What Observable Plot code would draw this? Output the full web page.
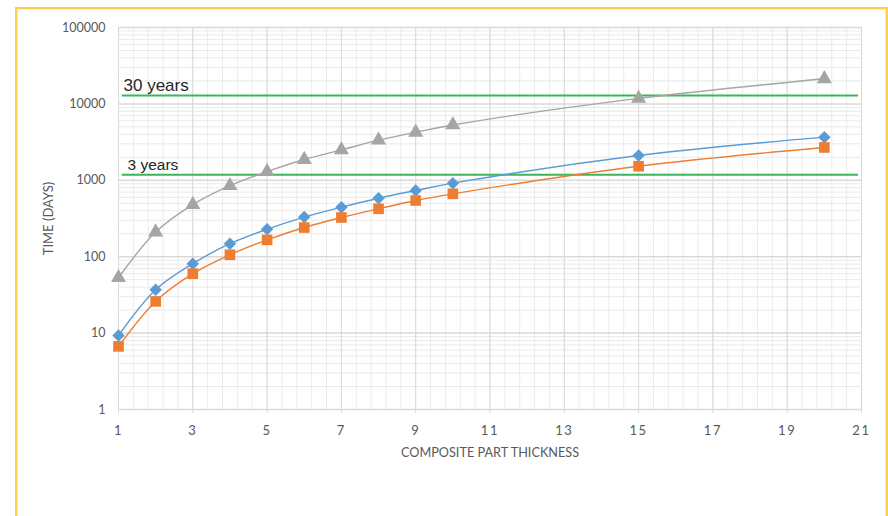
<!DOCTYPE html>
<html>
<head>
<meta charset="utf-8">
<script src="https://cdn.jsdelivr.net/npm/d3@7"></script>
<script src="https://cdn.jsdelivr.net/npm/@observablehq/plot@0.6"></script>
<style>
  html, body { margin: 0; padding: 0; background: #fff; }
  #wrap { position: relative; width: 888px; height: 516px; overflow: hidden; }
  #frame {
    position: absolute; left: 15px; top: 7px; width: 873px; height: 540px;
    box-sizing: border-box; border: 2px solid #fcd04a;
    box-shadow: inset 0 0 0 1px #ececec; pointer-events: none;
  }
  g[aria-label="x-axis tick label"] text { letter-spacing: 1.6px; }
</style>
</head>
<body>
<div id="wrap"><div id="frame"></div></div>
<script>
// Composite part thickness and time (days) for each of the three curves
const thickness = [1, 2, 3, 4, 5, 6, 7, 8, 9, 10, 15, 20];
const grayDays = [53, 210, 480, 850, 1300, 1870, 2500, 3350, 4250, 5300, 11800, 21300];
const blueDays = [9.3, 37, 81, 148, 229, 330, 445, 583, 735, 917, 2110, 3670];
const orangeDays = [6.7, 26, 60, 106, 166, 241, 326, 424, 544, 665, 1530, 2690];

// Reference service-life lines
const limitLabels = ["30 years", "3 years"];
const limitDays = [12900, 1180];

// Axis ticks
const xTickValues = [1, 3, 5, 7, 9, 11, 13, 15, 17, 19, 21];
const yTickValues = [1, 10, 100, 1000, 10000, 100000];

const series = [
  {name: "gray", days: grayDays, color: "#a5a5a5", symbol: "triangle", r: 5.6},
  {name: "blue", days: blueDays, color: "#5b9bd5", symbol: "diamond2", r: 5.6},
  {name: "orange", days: orangeDays, color: "#ed7d31", symbol: "square", r: 6}
];
const rows = series.flatMap(s => thickness.map((t, i) => ({series: s.name, t, d: s.days[i]})));
const limits = limitLabels.map((label, i) => ({label, days: limitDays[i]}));

// Grid: minor verticals every 0.4, log minor horizontals 2..9 per decade
const xMinor = d3.range(0, 51).map(i => 1 + i * 0.4);
const yMinor = d3.range(0, 5).flatMap(k => d3.range(2, 10).map(m => m * 10 ** k));

const font = "Lato, 'Open Sans', sans-serif";
const labelFont = "'Liberation Sans', Arial, sans-serif";

const chart = Plot.plot({
  width: 888,
  height: 516,
  marginLeft: 118,
  marginRight: 27,
  marginTop: 27,
  marginBottom: 107,
  style: {fontFamily: font, background: "transparent", overflow: "visible"},
  x: {domain: [1, 21], label: null},
  y: {type: "log", domain: [1, 100000], label: null},
  marks: [
    Plot.ruleX(xMinor, {stroke: "#ececec", strokeWidth: 1}),
    Plot.ruleY(yMinor, {stroke: "#e9e9e9", strokeWidth: 1}),
    Plot.ruleX(xTickValues, {stroke: "#d9d9d9", strokeWidth: 1}),
    Plot.ruleY(yTickValues, {stroke: "#d9d9d9", strokeWidth: 1.5}),
    Plot.axisX({ticks: xTickValues, tickSize: 4, tickPadding: 12, stroke: "#d9d9d9",
                fill: "#595959", fontSize: 13, label: null, tickFormat: d => String(d)}),
    Plot.axisY({ticks: yTickValues, tickSize: 0, tickPadding: 13, fill: "#595959",
                fontSize: 12.5, label: null, tickFormat: d => String(d)}),
    Plot.text(["COMPOSITE PART THICKNESS"], {frameAnchor: "bottom", dy: 43, fill: "#595959",
                fontSize: 12.7, textAnchor: "middle", lineAnchor: "middle"}),
    Plot.text(["TIME (DAYS)"], {frameAnchor: "left", dx: -70, rotate: -90, fill: "#595959",
                fontSize: 13, textAnchor: "middle", lineAnchor: "middle"}),
    Plot.ruleY(limits, {y: "days", x1: 1.1, x2: 20.92, stroke: "#3cb55a", strokeWidth: 2}),
    Plot.text(limits.slice(0, 1), {x: () => 1, y: "days", text: "label", textAnchor: "start",
                lineAnchor: "middle", dx: 5, dy: -10, fill: "#262626",
                fontFamily: labelFont, fontSize: 17}),
    Plot.text(limits.slice(1), {x: () => 1, y: "days", text: "label", textAnchor: "start",
                lineAnchor: "middle", dx: 9, dy: -10, fill: "#262626",
                fontFamily: labelFont, fontSize: 15.5}),
    ...series.map(s => Plot.line(rows.filter(r => r.series === s.name),
      {x: "t", y: "d", stroke: s.color, strokeWidth: 1.4, curve: "catmull-rom"})),
    ...series.map(s => Plot.dot(rows.filter(r => r.series === s.name),
      {x: "t", y: "d", fill: s.color, stroke: "none", symbol: () => s.symbol, r: s.r}))
  ]
});

document.getElementById("wrap").prepend(chart);
</script>
</body>
</html>
